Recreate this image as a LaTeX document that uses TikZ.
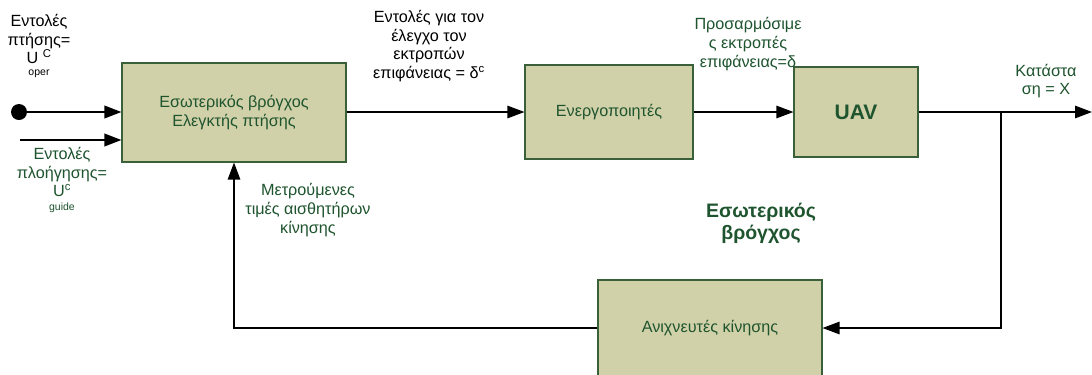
\documentclass[tikz,border=0pt]{standalone}
\usepackage{fontspec}
\setmainfont{Liberation Sans}
\usetikzlibrary{arrows.meta}
\definecolor{txtgreen}{RGB}{30,84,46}
\definecolor{boxfill}{RGB}{209,209,169}
\definecolor{boxline}{RGB}{58,96,58}
\newcommand{\mainsize}{\fontsize{16.2bp}{18.6bp}\selectfont}
\newcommand{\tinysize}{\fontsize{10.5bp}{11bp}\selectfont}
\begin{document}
\begin{tikzpicture}[x=1bp,y=-1bp,
  blockbox/.style={draw=boxline,line width=1.1bp,fill=boxfill,text=txtgreen,
    font=\mainsize,align=center,inner sep=0,anchor=center},
  lbl/.style={font=\mainsize,align=center,inner sep=0,anchor=center},
  sublbl/.style={font=\tinysize,inner sep=0,anchor=center},
  flow/.style={line width=1.2bp,-{Triangle[length=17bp,width=12.5bp]}},
  inflow/.style={line width=2bp,-{Triangle[length=17bp,width=12.5bp]}}]
\useasboundingbox (0,0) rectangle (1092,374);
\fill[white] (0,0) rectangle (1092,374);

% blocks
\node[blockbox,minimum width=224bp,minimum height=99bp] (ctrl) at (234,112.5)
  {Εσωτερικός βρόγχος\\Ελεγκτής πτήσης};
\node[blockbox,minimum width=168bp,minimum height=94bp] (act) at (609,112)
  {Ενεργοποιητές};
\node[blockbox,minimum width=124bp,minimum height=90bp,
  font=\fontsize{21bp}{24bp}\selectfont\bfseries] (uav) at (856,112) {UAV};
\node[blockbox,minimum width=224bp,minimum height=96bp] (sens) at (710,328)
  {Ανιχνευτές κίνησης};

% inputs
\fill (19,112) circle (8bp) coordinate (src);
\coordinate (guide) at (20,140);
\coordinate (out) at (1092,112);
\coordinate (tap) at (1001,112);

\draw[inflow] (src) -- (ctrl.west |- src);
\draw[inflow] (guide) -- (ctrl.west |- guide);

% forward path
\draw[flow] (ctrl.east |- act.west) -- (act.west);
\draw[flow] (act.east) -- (uav.west);
\draw[flow] (uav.east) -- (out);

% feedback path
\draw[flow] (tap) |- (sens.east);
\draw[flow] (sens.west) -| (ctrl.south);

% labels
\node[lbl] (lflight) at (39,39) {Εντολές\\πτήσης=\\U \textsuperscript{C}};
\node[sublbl] (loper) at (39,74) {oper};
\node[lbl,text=txtgreen] (lnav) at (62,172) {Εντολές\\πλοήγησης=\\U\textsuperscript{c}};
\node[sublbl,text=txtgreen] (lguide) at (62,208) {guide};
\node[lbl] (lcmd) at (429,46) {Εντολές για τον\\έλεγχο τον\\εκτροπών\\επιφάνειας = δ\textsuperscript{c}};
\node[lbl,text=txtgreen] (ladj) at (748,44) {Προσαρμόσιμε\\ς εκτροπές\\επιφάνειας=δ};
\node[lbl,text=txtgreen] (lstate) at (1046,81) {Κατάστα\\ση = X};
\node[lbl,text=txtgreen] (lmeas) at (308,210) {Μετρούμενες\\τιμές αισθητήρων\\κίνησης};
\node[lbl,text=txtgreen,font=\fontsize{19.5bp}{22bp}\selectfont\bfseries] (lloop) at (761,223)
  {Εσωτερικός\\βρόγχος};
\end{tikzpicture}
\end{document}
